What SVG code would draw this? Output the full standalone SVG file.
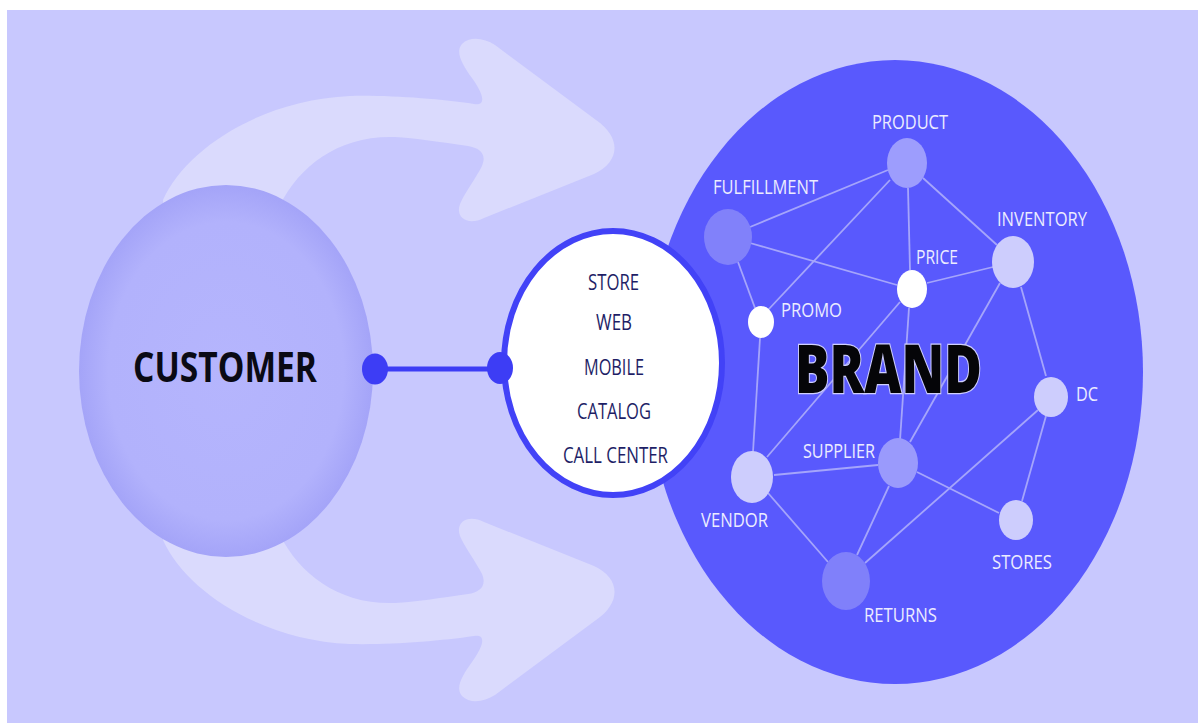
<svg xmlns="http://www.w3.org/2000/svg" width="1198" height="723" viewBox="0 0 1198 723">
<style>
.lbl{font-family:"Open Sans","Liberation Sans",sans-serif;font-size:19.5px;fill:#ececff;}
.ch{font-family:"Open Sans","Liberation Sans",sans-serif;font-size:21px;fill:#1e1e66;}
.edge{stroke:#a5a5fb;stroke-width:1.8;fill:none;}
.arrow{fill:#dadafd;}
</style>
<defs>
<radialGradient id="custGrad" cx="0.5" cy="0.5" r="0.5">
<stop offset="0" stop-color="#b5b5fd"/>
<stop offset="0.8" stop-color="#b2b2fc"/>
<stop offset="1" stop-color="#a4a4f8"/>
</radialGradient>
<path id="arrowShape" d="M 168 260 L 163 200 C 185 150 260 100 350 96 C 390 95 440 99 474 104 C 488 106 482 92 472 78 C 462 64 455 52 462 44 C 470 36 484 38 495 45 L 596 120 C 622 138 620 162 594 174 L 484 218 C 468 226 455 218 460 204 C 464 194 476 178 482 166 C 487 154 480 148 468 146 C 440 142 415 138 395 137 C 340 135 300 165 280 205 L 270 260 Z"/>
</defs>
<rect x="0" y="0" width="1198" height="723" fill="#ffffff"/>
<rect x="7" y="10" width="1191" height="713" fill="#c8c8fe"/>
<g id="arrows">
<use href="#arrowShape" class="arrow"/>
<use href="#arrowShape" class="arrow" transform="matrix(1 0 0 -1 0 740)"/>
</g>
<g id="customer">
<ellipse cx="226" cy="371" rx="147" ry="186" fill="url(#custGrad)"/>
<text x="133" y="382" textLength="184" lengthAdjust="spacingAndGlyphs" font-family="'Open Sans','Liberation Sans',sans-serif" font-weight="bold" font-size="42" fill="#0a0a14">CUSTOMER</text>
</g>
<g id="brand">
<ellipse cx="895" cy="372" rx="248" ry="312" fill="#5959fd"/>
</g>
<g id="connectors">
<line class="edge" x1="750" y1="227" x2="888" y2="170"/>
<line class="edge" x1="750" y1="243" x2="897" y2="285"/>
<line class="edge" x1="738" y1="262" x2="755" y2="308"/>
<line class="edge" x1="890" y1="180" x2="768" y2="310"/>
<line class="edge" x1="908" y1="188" x2="910" y2="270"/>
<line class="edge" x1="923" y1="178" x2="997" y2="245"/>
<line class="edge" x1="927" y1="283" x2="993" y2="267"/>
<line class="edge" x1="900" y1="302" x2="767" y2="457"/>
<line class="edge" x1="909" y1="308" x2="900" y2="440"/>
<line class="edge" x1="1000" y1="283" x2="910" y2="442"/>
<line class="edge" x1="1021" y1="287" x2="1046" y2="376"/>
<line class="edge" x1="760" y1="338" x2="753" y2="452"/>
<line class="edge" x1="774" y1="475" x2="878" y2="465"/>
<line class="edge" x1="768" y1="493" x2="828" y2="562"/>
<line class="edge" x1="889" y1="486" x2="857" y2="555"/>
<line class="edge" x1="917" y1="472" x2="999" y2="513"/>
<line class="edge" x1="865" y1="563" x2="1038" y2="410"/>
<line class="edge" x1="1046" y1="416" x2="1022" y2="501"/>
</g>
<g id="node-product"><ellipse cx="907" cy="163" rx="20" ry="25" fill="#9d9dfd"/><text class="lbl" x="872" y="129" textLength="76" lengthAdjust="spacingAndGlyphs">PRODUCT</text></g>
<g id="node-fulfillment"><ellipse cx="728" cy="237" rx="24" ry="28" fill="#8181fa"/><text class="lbl" x="713" y="194" textLength="105" lengthAdjust="spacingAndGlyphs">FULFILLMENT</text></g>
<g id="node-inventory"><ellipse cx="1013" cy="262" rx="21" ry="26" fill="#cdcdfd"/><text class="lbl" x="997" y="226" textLength="90" lengthAdjust="spacingAndGlyphs">INVENTORY</text></g>
<g id="node-price"><ellipse cx="912" cy="289" rx="15" ry="19" fill="#ffffff"/><text class="lbl" x="916" y="264" textLength="42" lengthAdjust="spacingAndGlyphs">PRICE</text></g>
<g id="node-promo"><ellipse cx="761" cy="322" rx="13" ry="16" fill="#ffffff"/><text class="lbl" x="781" y="317" textLength="61" lengthAdjust="spacingAndGlyphs">PROMO</text></g>
<g id="node-dc"><ellipse cx="1051" cy="397" rx="17" ry="20" fill="#cdcdfd"/><text class="lbl" x="1076" y="401" textLength="22" lengthAdjust="spacingAndGlyphs">DC</text></g>
<g id="node-supplier"><ellipse cx="898" cy="463" rx="20" ry="25" fill="#9a9afc"/><text class="lbl" x="803" y="458" textLength="72" lengthAdjust="spacingAndGlyphs">SUPPLIER</text></g>
<g id="node-vendor"><ellipse cx="752" cy="477" rx="21" ry="26" fill="#cdcdfd"/><text class="lbl" x="701" y="527" textLength="67" lengthAdjust="spacingAndGlyphs">VENDOR</text></g>
<g id="node-stores"><ellipse cx="1016" cy="520" rx="17" ry="20" fill="#cdcdfd"/><text class="lbl" x="992" y="569" textLength="60" lengthAdjust="spacingAndGlyphs">STORES</text></g>
<g id="node-returns"><ellipse cx="846" cy="581" rx="24" ry="29" fill="#8080fa"/><text class="lbl" x="864" y="622" textLength="73" lengthAdjust="spacingAndGlyphs">RETURNS</text></g>
<g id="brand-label">
<text x="795" y="393" textLength="187" lengthAdjust="spacingAndGlyphs" font-family="'Open Sans','Liberation Sans',sans-serif" font-weight="800" font-size="67" fill="#050508" stroke="#cfcfff" stroke-width="2.5" paint-order="stroke">BRAND</text>
</g>
<g id="channels">
<ellipse cx="613" cy="363" rx="109" ry="132" fill="#ffffff" stroke="#4242f7" stroke-width="6"/>
<text class="ch" x="588" y="290" textLength="51" lengthAdjust="spacingAndGlyphs">STORE</text>
<text class="ch" x="596" y="330" textLength="36" lengthAdjust="spacingAndGlyphs">WEB</text>
<text class="ch" x="584" y="375" textLength="60" lengthAdjust="spacingAndGlyphs">MOBILE</text>
<text class="ch" x="577" y="419" textLength="74" lengthAdjust="spacingAndGlyphs">CATALOG</text>
<text class="ch" x="563" y="463" textLength="105" lengthAdjust="spacingAndGlyphs">CALL CENTER</text>
</g>
<g id="link">
<line x1="375" y1="369" x2="500" y2="369" stroke="#3d3df5" stroke-width="5"/>
<ellipse cx="375" cy="369" rx="13" ry="15.5" fill="#3d3df5"/>
<ellipse cx="500" cy="368" rx="13" ry="16" fill="#3d3df5"/>
</g>
</svg>
